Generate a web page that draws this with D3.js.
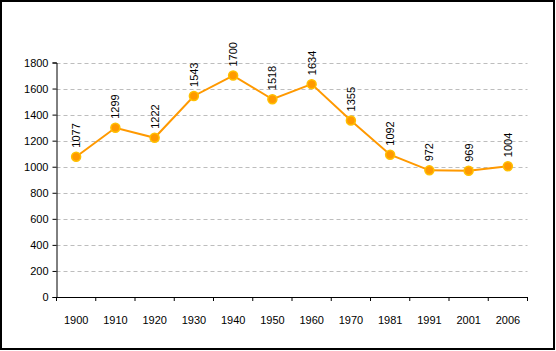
<!DOCTYPE html>
<html>
<head>
<meta charset="utf-8">
<script src="https://cdn.jsdelivr.net/npm/d3@7"></script>
<style>
  body { margin: 0; background: #fff; }
  text { font-family: "Liberation Sans", Arial, sans-serif; font-size: 11px; fill: #000; }
</style>
</head>
<body>
<div id="chart"></div>
<script>
const years = ["1900", "1910", "1920", "1930", "1940", "1950", "1960", "1970", "1981", "1991", "2001", "2006"];
const population = [1077, 1299, 1222, 1543, 1700, 1518, 1634, 1355, 1092, 972, 969, 1004];
const yTicks = [0, 200, 400, 600, 800, 1000, 1200, 1400, 1600, 1800];

const width = 556;
const height = 351;
const margin = { top: 62.5, left: 56.5, right: 28.5, bottom: 54 };

const svg = d3.select("#chart")
    .append("svg")
    .attr("width", width)
    .attr("height", height);

// outer frame
svg.append("rect")
    .attr("x", 1)
    .attr("y", 1)
    .attr("width", width - 3)
    .attr("height", height - 3)
    .attr("fill", "#fff")
    .attr("stroke", "#000")
    .attr("stroke-width", 2);

const x = d3.scaleBand()
    .domain(years)
    .range([margin.left, width - margin.right]);

const y = d3.scaleLinear()
    .domain([0, 1800])
    .range([height - margin.bottom, margin.top]);

// dashed gridlines
svg.append("g")
    .selectAll("line")
    .data(yTicks.filter(d => d > 0))
    .enter().append("line")
    .attr("x1", margin.left)
    .attr("x2", width - margin.right)
    .attr("y1", d => Math.round(y(d)) + 0.5)
    .attr("y2", d => Math.round(y(d)) + 0.5)
    .attr("stroke", "#bdbdbd")
    .attr("stroke-dasharray", "4,3");

// y axis
const yAxis = svg.append("g")
    .attr("transform", `translate(${margin.left},0)`)
    .call(d3.axisLeft(y).tickValues(yTicks).tickSize(4).tickPadding(4).tickFormat(d3.format("d")));

// x axis
const xAxis = svg.append("g")
    .attr("transform", `translate(0,${height - margin.bottom})`)
    .call(d3.axisBottom(x).tickSize(0).tickPadding(19));

xAxis.selectAll(".tick")
    .append("line")
    .attr("x1", -x.bandwidth() / 2)
    .attr("x2", -x.bandwidth() / 2)
    .attr("y2", 4)
    .attr("stroke", "#000");

xAxis.append("line")
    .attr("x1", x.range()[1])
    .attr("x2", x.range()[1])
    .attr("y2", 4)
    .attr("stroke", "#000");

[yAxis, xAxis].forEach(a => {
    a.selectAll("path, line").attr("stroke", "#000");
    a.selectAll("text").attr("fill", "#000").style("font-size", "11px")
        .style("font-family", "'Liberation Sans', Arial, sans-serif");
});

// series line
const cx = (d, i) => x(years[i]) + x.bandwidth() / 2;
const line = d3.line()
    .x(cx)
    .y(d => y(d));

svg.append("path")
    .datum(population)
    .attr("d", line)
    .attr("fill", "none")
    .attr("stroke", "#FF9900")
    .attr("stroke-width", 2);

svg.append("g")
    .selectAll("circle")
    .data(population)
    .enter().append("circle")
    .attr("cx", cx)
    .attr("cy", d => y(d))
    .attr("r", 4.5)
    .attr("fill", "#FF9900")
    .attr("stroke", "#FFC000")
    .attr("stroke-width", 1.5);

// rotated data labels
svg.append("g")
    .selectAll("text")
    .data(population)
    .enter().append("text")
    .attr("transform", (d, i) => `translate(${cx(d, i) + 4},${y(d) - 9}) rotate(-90)`)
    .attr("text-anchor", "start")
    .text(d => d);
</script>
</body>
</html>
